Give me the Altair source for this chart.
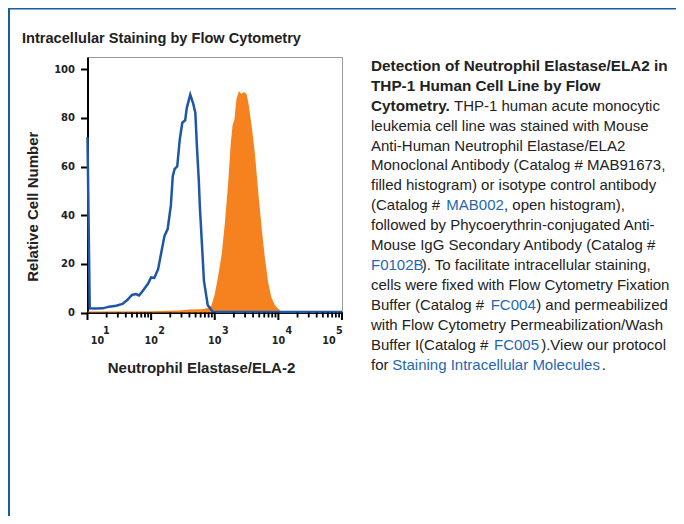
import altair as alt
import pandas as pd

# ---- data (x = fluorescence intensity, y = relative cell number)
iso_x = [10, 10.84, 13.18, 17.38, 21.88, 28.18, 35.48, 41.69, 50.12, 57.54, 64.57, 74.13,
         89.13, 100, 112.2, 128.8, 144.5, 162.2, 182.0, 204.2, 218.8, 234.4, 257.0, 281.8,
         309.0, 342.8, 363.1, 412.1, 457.1, 495.5, 524.8, 562.3, 582.1, 631.0, 676.1,
         776.2, 933.3, 1995, 100000]
iso_y = [72, 1.7, 1.6, 1.7, 2.4, 2.8, 3.5, 5.0, 7.2, 7.6, 7.0, 8.9,
         11.8, 14.4, 14.2, 17.8, 24.7, 31.5, 34.3, 44.0, 56.0, 59.0, 60.0, 71.0,
         78.0, 79.0, 84.0, 89.5, 86.0, 82.0, 68.0, 54.0, 44.0, 27.5, 13.0,
         3.0, 0.3, 0.2, 0.2]

ab_x = [10, 100, 282, 398, 631, 794, 891, 1000, 1122, 1288, 1445, 1622, 1778, 1905,
        2042, 2188, 2399, 2630, 2884, 3162, 3388, 3802, 4266, 4786, 5495, 6166, 6918,
        7762, 8913, 10715, 12589, 100000]
ab_y = [0.4, 0.5, 0.8, 1.2, 1.3, 1.8, 3.0, 7.5, 14.5, 24.0, 37.0, 53.0, 69.0, 77.0,
        79.5, 87.5, 91.0, 89.8, 90.6, 89.8, 86.0, 76.5, 65.5, 50.5, 34.0, 22.0, 12.3,
        6.2, 2.8, 0.7, 0.1, 0.0]

major_ticks = [10, 100, 1000, 10000, 100000]
minor_ticks = [m * d for d in major_ticks[:-1] for m in range(2, 10)]
exponents = ["1", "2", "3", "4", "5"]
y_ticks = [0, 20, 40, 60, 80, 100]

W, H = 254.5, 255.5
BLUE = "#1f56a5"
ORANGE = "#f5821f"
LINK = "#1f67b1"
INK = "#222222"

XSC = alt.Scale(type="log", domain=[10, 100000], nice=False)
XAX = alt.Axis(labels=False, ticks=False, grid=False, title=None,
               domainColor="black", domainWidth=2)
YSC = alt.Scale(domain=[0, 105], nice=False)
YAX = alt.Axis(values=y_ticks, title=None, grid=False, domainColor="black",
               domainWidth=2, tickColor="black", tickWidth=2, tickSize=7,
               labelFont="DejaVu Sans", labelFontWeight="bold", labelFontSize=10,
               labelColor=INK, labelPadding=6)

ab = pd.DataFrame({"x": ab_x, "y": ab_y})
iso = pd.DataFrame({"x": iso_x, "y": iso_y})

area = alt.Chart(ab).mark_area(color=ORANGE, opacity=1, interpolate="linear").encode(
    x=alt.X("x:Q", scale=XSC, axis=XAX), y=alt.Y("y:Q", scale=YSC, axis=YAX))
line = alt.Chart(iso).mark_line(color=BLUE, strokeWidth=2.5, interpolate="linear").encode(
    x=alt.X("x:Q", scale=XSC, axis=XAX), y=alt.Y("y:Q", scale=YSC, axis=YAX))

maj = alt.Chart(pd.DataFrame({"x": major_ticks})).mark_rule(color="black", strokeWidth=2).encode(
    x=alt.X("x:Q", scale=XSC, axis=XAX), y=alt.value(H), y2=alt.value(H + 7.5))
mino = alt.Chart(pd.DataFrame({"x": minor_ticks})).mark_rule(color="black", strokeWidth=1.8).encode(
    x=alt.X("x:Q", scale=XSC, axis=XAX), y=alt.value(H), y2=alt.value(H + 5))

lab_df = pd.DataFrame({"x": major_ticks, "e": exponents})


def tick_labels(flt, dx_base, dx_exp):
    base = alt.Chart(lab_df).transform_filter(flt).mark_text(
        font="DejaVu Sans", fontWeight="bold", fontSize=9.6, color=INK,
        align="center", baseline="alphabetic", dx=dx_base, text="10").encode(
        x=alt.X("x:Q", scale=XSC, axis=XAX), y=alt.value(H + 31.5))
    exp = alt.Chart(lab_df).transform_filter(flt).mark_text(
        font="DejaVu Sans", fontWeight="bold", fontSize=9.6, color=INK,
        align="center", baseline="alphabetic", dx=dx_exp).encode(
        x=alt.X("x:Q", scale=XSC, axis=XAX), y=alt.value(H + 21.8), text="e:N")
    return [base, exp]


labels = (tick_labels("datum.x == 10", 10, 18.8)
          + tick_labels("datum.x > 10 && datum.x < 100000", 0, 10.5)
          + tick_labels("datum.x == 100000", -13, -2.7))


def txt(s, x, y, size=15, bold=False, color=INK, font="Liberation Sans", angle=0, align="left"):
    return alt.Chart(pd.DataFrame({"t": [s]})).mark_text(
        align=align, baseline="alphabetic", font=font, fontSize=size,
        fontWeight="bold" if bold else "normal", color=color, angle=angle).encode(
        x=alt.value(x), y=alt.value(y), text="t:N")


def rule(x, x2, y, y2, color, w):
    return alt.Chart(pd.DataFrame({"a": [0]})).mark_rule(color=color, strokeWidth=w).encode(
        x=alt.value(x), x2=alt.value(x2), y=alt.value(y), y2=alt.value(y2))


# page frame
frame = [
    rule(-78.5, -78.5, -49, 460, "#14609f", 2),
    rule(-79.5, 588.5, -48.2, -48.2, "#14609f", 1.6),
]

titles = [
    txt("Intracellular Staining by Flow Cytometry", -65.5, -14, size=14.6, bold=True),
    txt("Neutrophil Elastase/ELA-2", 114, 315.7, size=15, bold=True, align="center"),
    txt("Relative Cell Number", -49.1, 149.7, size=15, bold=True, angle=270, align="center"),
]

X0 = 283.5
Y0 = 13.7
LH = 19.95
BS = 15
BB = 15.3


def ly(i):
    return Y0 + LH * i


caption = [
    txt("Detection of Neutrophil Elastase/ELA2 in", X0, ly(0), BB, True),
    txt("THP-1 Human Cell Line by Flow", X0, ly(1), BB, True),
    txt("Cytometry.", X0, ly(2), BB, True),
    txt("THP-1 human acute monocytic", 366.5, ly(2), BS),
    txt("leukemia cell line was stained with Mouse", X0, ly(3), BS),
    txt("Anti-Human Neutrophil Elastase/ELA2", X0, ly(4), BS),
    txt("Monoclonal Antibody (Catalog # MAB91673,", X0, ly(5), BS),
    txt("filled histogram) or isotype control antibody", X0, ly(6), BS),
    txt("(Catalog # ", X0, ly(7), BS),
    txt("MAB002", 358.8, ly(7), BS, color=LINK),
    txt(", open histogram),", 416.5, ly(7), BS),
    txt("followed by Phycoerythrin-conjugated Anti-", X0, ly(8), BS),
    txt("Mouse IgG Secondary Antibody (Catalog #", X0, ly(9), BS),
    txt("F0102B", X0, ly(10), BS, color=LINK),
    txt("). To facilitate intracellular staining,", 334.2, ly(10), BS),
    txt("cells were fixed with Flow Cytometry Fixation", X0, ly(11), BS),
    txt("Buffer (Catalog # ", X0, ly(12), BS),
    txt("FC004", 403.2, ly(12), BS, color=LINK),
    txt(") and permeabilized", 448.7, ly(12), BS),
    txt("with Flow Cytometry Permeabilization/Wash", X0, ly(13), BS),
    txt("Buffer I(Catalog # ", X0, ly(14), BS),
    txt("FC005", 406.5, ly(14), BS, color=LINK),
    txt(").View our protocol", 453.7, ly(14), BS),
    txt("for ", X0, ly(15), BS),
    txt("Staining Intracellular Molecules", 304.8, ly(15), BS, color=LINK),
    txt(".", 514.3, ly(15), BS),
]

chart = alt.layer(area, line, maj, mino, *labels, *frame, *titles, *caption).properties(
    width=W, height=H,
    autosize=alt.AutoSizeParams(type="none"),
    padding={"left": 79.5, "top": 49, "right": 334, "bottom": 203.5},
    background="white",
).configure_view(stroke="#9a9a9a", strokeWidth=1)

chart.save("out.html", embed_options={"renderer": "svg", "actions": False})
